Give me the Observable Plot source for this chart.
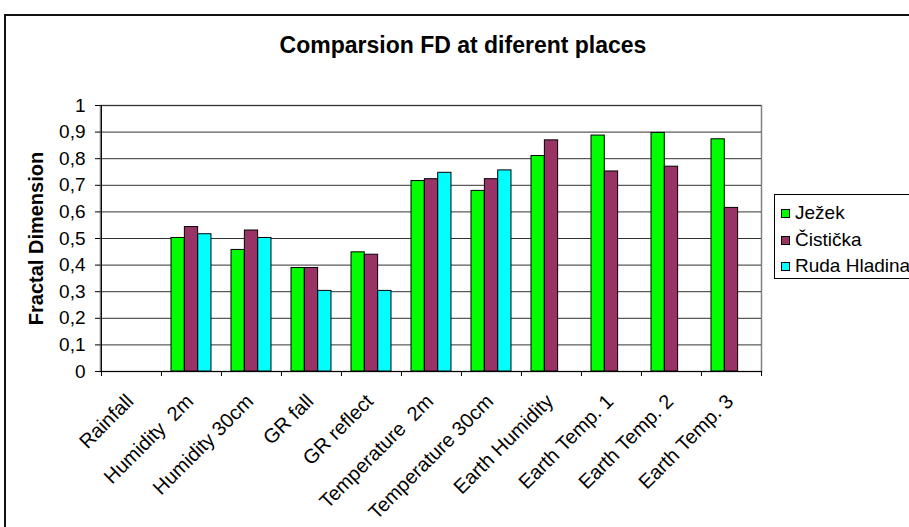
<!DOCTYPE html>
<html>
<head>
<meta charset="utf-8">
<script src="https://cdn.jsdelivr.net/npm/d3@7"></script>
<script src="https://cdn.jsdelivr.net/npm/@observablehq/plot@0.6"></script>
<style>
  html, body { margin: 0; padding: 0; background: #fff; overflow: hidden; }
  #wrap { position: relative; width: 909px; height: 527px; overflow: hidden; background: #fff;
          font-family: "Liberation Sans", Arial, sans-serif; color: #000; }
  #wrap svg { position: absolute; left: 0; top: 0; }
  #wrap svg text { white-space: pre; }
  #chartBorder { position: absolute; left: 4px; top: 14px; width: 1000px; height: 1000px;
                 border: 2px solid #111; box-sizing: border-box; pointer-events: none; }
  #title { position: absolute; left: 0; width: 926px; top: 34px; text-align: center;
           font-weight: bold; font-size: 23px; line-height: 23px; }
  #legend { position: absolute; left: 774px; top: 194px; width: 170px; height: 85px;
            border: 1px solid #000; background: #fff; box-sizing: border-box; }
  .item { position: absolute; left: 6px; height: 22px; font-size: 19px; line-height: 22px; white-space: pre; }
  .swatch { position: absolute; left: 0; top: 7px; width: 9px; height: 9px; border: 1px solid #000; box-sizing: border-box; }
  .label { position: absolute; left: 14px; top: 0; }
</style>
</head>
<body>
<div id="wrap">
  <div id="chartBorder"></div>
  <div id="title"></div>
  <div id="legend"></div>
</div>
<script>
// Fractal dimension of meteorological series measured at three places
const titleText = "Comparsion FD at diferent places";
const yLabel = "Fractal Dimension";

const categories = [
  "Rainfall", "Humidity  2m", "Humidity 30cm", "GR fall", "GR reflect",
  "Temperature  2m", "Temperature 30cm", "Earth Humidity",
  "Earth Temp. 1", "Earth Temp. 2", "Earth Temp. 3"
];

const seriesNames = ["Ježek", "Čistička", "Ruda Hladina"];
const seriesColors = ["#00ff00", "#993366", "#00ffff"];

const jezek    = [null, 0.502, 0.457, 0.389, 0.448, 0.716, 0.679, 0.810, 0.887, 0.897, 0.873];
const cisticka = [null, 0.543, 0.530, 0.389, 0.439, 0.723, 0.723, 0.869, 0.752, 0.770, 0.615];
const ruda     = [null, 0.516, 0.502, 0.303, 0.303, 0.747, 0.756, null, null, null, null];

const yTicks = [0, 0.1, 0.2, 0.3, 0.4, 0.5, 0.6, 0.7, 0.8, 0.9, 1];

// long-format rows for the bar marks
const seriesValues = [jezek, cisticka, ruda];
const rows = [];
seriesValues.forEach((vals, s) => {
  vals.forEach((v, c) => {
    if (v != null) rows.push({category: categories[c], series: seriesNames[s], value: v});
  });
});

// layout
const W = 909, H = 527;
const mL = 100, mR = 148, mT = 105, mB = 156;
const step = (W - mL - mR) / categories.length;   // width of one category band
const groupFrac = 2 / 3;                            // share of a band used by its bar group
const barW = step * groupFrac / seriesNames.length;
const groupOff = step * (1 - groupFrac) / 2;

const fmt = d => d3.format(".1~f")(d).replace(".", ",");

const barMarks = seriesNames.map((name, i) =>
  Plot.barY(rows.filter(r => r.series === name), {
    x: "category",
    y: "value",
    fill: seriesColors[i],
    stroke: "#000",
    strokeWidth: 1,
    insetLeft: groupOff + i * barW,
    insetRight: step - groupOff - (i + 1) * barW
  })
);

const chart = Plot.plot({
  width: W,
  height: H,
  marginLeft: mL,
  marginRight: mR,
  marginTop: mT,
  marginBottom: mB,
  style: {fontFamily: "'Liberation Sans', Arial, sans-serif", fontSize: "19px", background: "transparent", color: "#000"},
  x: {domain: categories, padding: 0},
  y: {domain: [0, 1]},
  marks: [
    Plot.frame({stroke: "#808080", strokeWidth: 1.5}),
    Plot.ruleY(yTicks.slice(1), {stroke: "#333", strokeWidth: 1}),
    ...barMarks,
    // value axis
    Plot.ruleX([categories[0]], {dx: -step / 2, stroke: "#000"}),
    Plot.axisY({ticks: yTicks, tickFormat: fmt, tickSize: 5, tickPadding: 10, label: null, fontSize: 19}),
    // category axis: line, ticks between categories, slanted labels
    Plot.ruleY([0], {stroke: "#000"}),
    Plot.axisX({tickSize: 5, tickFormat: () => "", label: null, dx: -step / 2}),
    Plot.axisX({ticks: [categories[categories.length - 1]], tickSize: 5, tickFormat: () => "", label: null, dx: step / 2}),
    Plot.text(categories, {
      x: d => d, frameAnchor: "bottom", dy: 21, dx: -7,
      rotate: -45, textAnchor: "end", lineAnchor: "top", fontSize: 20
    }),
    Plot.text([yLabel], {
      frameAnchor: "left", dx: -64, rotate: -90,
      textAnchor: "middle", lineAnchor: "middle", fontWeight: "bold", fontSize: 20
    })
  ]
});

const wrap = document.getElementById("wrap");
wrap.insertBefore(chart, document.getElementById("chartBorder"));

document.getElementById("title").textContent = titleText;

// legend
const legend = document.getElementById("legend");
seriesNames.forEach((name, i) => {
  const item = document.createElement("div");
  item.className = "item";
  item.style.top = (7 + i * 26.7) + "px";
  const sw = document.createElement("div");
  sw.className = "swatch";
  sw.style.background = seriesColors[i];
  const lb = document.createElement("div");
  lb.className = "label";
  lb.textContent = name;
  item.appendChild(sw);
  item.appendChild(lb);
  legend.appendChild(item);
});
</script>
</body>
</html>
